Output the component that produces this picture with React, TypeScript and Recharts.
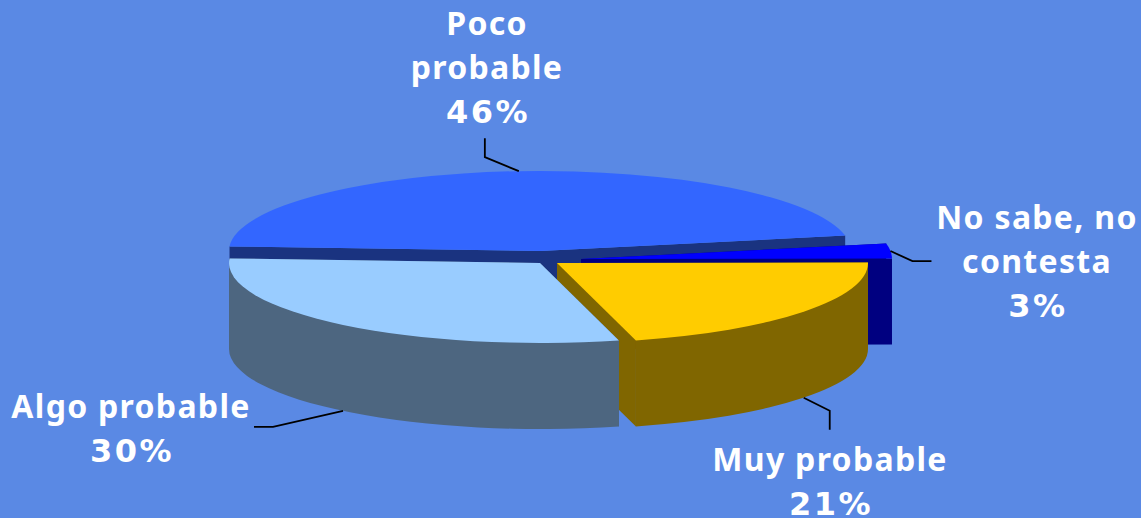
import { PieChart, Pie } from 'recharts';

const categories = ['Poco probable', 'No sabe, no contesta', 'Muy probable', 'Algo probable'];
const shares = [46, 3, 21, 30];
const labelLines = [
  ['Poco', 'probable', '46%'],
  ['No sabe, no', 'contesta', '3%'],
  ['Muy probable', '21%'],
  ['Algo probable', '30%'],
];

const data = categories.map((name, i) => ({ name, value: shares[i] }));

// look of each slice, same order as the data
const topColors = ['#3366ff', '#0000ff', '#ffcc00', '#99ccff'];
const wallColors = ['#1a3380', '#000080', '#806600', '#4d6680'];
const explodeX = [0, 41, 17, 0];
const explodeY = [0, 8, 12, 12];
const labelX = [487, 1037, 830, 131];
const labelY = [35, 229, 471, 418];
const elbowX = [[-34, -34], [22, 41], [26, 26], [-70, -89]];
const elbowY = [[-14, -33], [10, 10], [13, 32], [16, 16]];

const SQUASH = 80 / 311;
const DEPTH = 86;
const LINE_HEIGHT = 44;

const rad = (deg: number) => (deg * Math.PI) / 180;
const rim = (cx: number, cy: number, r: number, deg: number) => ({
  x: cx + r * Math.cos(rad(deg)),
  y: cy - r * SQUASH * Math.sin(rad(deg)),
});

const Slice3D = (props: any) => {
  const { index, startAngle, endAngle, outerRadius: r } = props;
  const cx = props.cx + explodeX[index];
  const cy = props.cy + explodeY[index];
  const ry = r * SQUASH;
  const a = rim(cx, cy, r, startAngle);
  const b = rim(cx, cy, r, endAngle);
  const large = Math.abs(startAngle - endAngle) > 180 ? 1 : 0;
  const top = `M${cx},${cy} L${a.x},${a.y} A${r},${ry} 0 ${large} 1 ${b.x},${b.y} Z`;
  const cut = (p: { x: number; y: number }) =>
    `M${cx},${cy} L${p.x},${p.y} L${p.x},${p.y + DEPTH} L${cx},${cy + DEPTH} Z`;

  // only the lower half of the rim faces the viewer
  const hi = Math.min(startAngle, 0);
  const lo = Math.max(endAngle, -180);
  let outer = null;
  if (hi > lo) {
    const p = rim(cx, cy, r, hi);
    const q = rim(cx, cy, r, lo);
    outer = `M${p.x},${p.y} A${r},${ry} 0 0 1 ${q.x},${q.y} L${q.x},${q.y + DEPTH} A${r},${ry} 0 0 0 ${p.x},${p.y + DEPTH} Z`;
  }
  const wall = wallColors[index];
  return (
    <g>
      <path d={cut(a)} fill={wall} />
      <path d={cut(b)} fill={wall} />
      {outer && <path d={outer} fill={wall} />}
      <path d={top} fill={topColors[index]} />
    </g>
  );
};

const SliceLabel = (props: any) => {
  const { index, midAngle, outerRadius: r } = props;
  const cx = props.cx + explodeX[index];
  const cy = props.cy + explodeY[index];
  const p = rim(cx, cy, r, midAngle);
  // leaders of the front slices start at the bottom of the wall
  const y0 = midAngle < -20 ? p.y + DEPTH : p.y;
  const pts = [
    [p.x, y0],
    [p.x + elbowX[index][0], y0 + elbowY[index][0]],
    [p.x + elbowX[index][1], y0 + elbowY[index][1]],
  ];
  return (
    <g>
      <polyline points={pts.map((q) => q.join(',')).join(' ')} fill="none" stroke="#000" strokeWidth={1.8} />
      {labelLines[index].map((line, i) => {
        const isPct = line.endsWith('%');
        return (
          <text
            key={line}
            x={labelX[index] + (isPct ? 1 : 0)}
            y={labelY[index] + i * LINE_HEIGHT}
            textAnchor="middle"
            fill="#fff"
            fontFamily={isPct ? "'DejaVu Sans', sans-serif" : "'Noto Sans', sans-serif"}
            fontWeight={700}
            fontSize={32}
            letterSpacing={isPct ? 2.5 : 1.3}
          >
            {line}
          </text>
        );
      })}
    </g>
  );
};

export default function App() {
  return (
    <div style={{ position: 'absolute', left: 0, top: 0, width: 1141, height: 518, background: '#5a89e4', overflow: 'hidden' }}>
      <PieChart width={1141} height={518} margin={{ top: 0, right: 0, bottom: 0, left: 0 }}>
        <Pie
          data={data}
          dataKey="value"
          nameKey="name"
          cx={540}
          cy={251}
          innerRadius={0}
          outerRadius={311}
          startAngle={176.7}
          endAngle={-183.3}
          stroke="none"
          shape={Slice3D}
          label={SliceLabel}
          labelLine={false}
          isAnimationActive={false}
        />
      </PieChart>
    </div>
  );
}
